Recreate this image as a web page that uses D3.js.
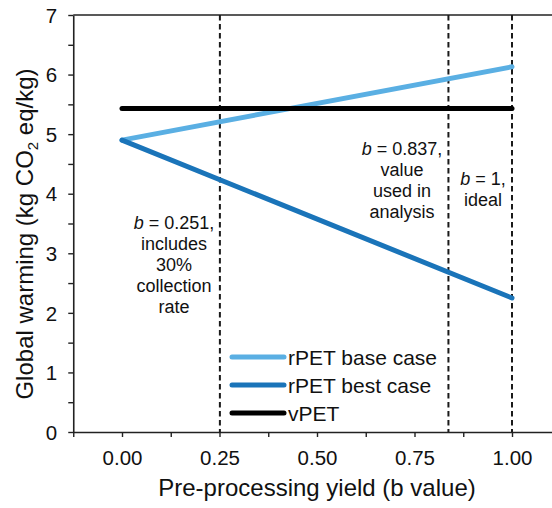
<!DOCTYPE html>
<html>
<head>
<meta charset="utf-8">
<script src="https://cdn.jsdelivr.net/npm/d3@7"></script>
<style>
  body { margin: 0; background: #fff; }
  svg { display: block; font-family: "Liberation Sans", Arial, sans-serif; }
</style>
</head>
<body>
<svg id="canvas" width="552" height="508"></svg>
<script>
// data
let bValues = [0, 1]
let baseCase = [4.9, 6.13]
let bestCase = [4.9, 2.25]
let vPET = [5.43, 5.43]
let markerB = [0.251, 0.837, 1]
let xTickLabels = [0, 0.25, 0.5, 0.75, 1]
let yTickLabels = [0, 1, 2, 3, 4, 5, 6, 7]

let seriesNames = ['rPET base case', 'rPET best case', 'vPET']
let seriesColors = ['#5aafe3', '#1a74b9', '#000000']

// notes next to the dashed lines
let notes = [
    { b: 0.251, cx: 174, y0: 229, lines: ['= 0.251,', 'includes', '30%', 'collection', 'rate'] },
    { b: 0.837, cx: 402, y0: 155, lines: ['= 0.837,', 'value', 'used in', 'analysis'] },
    { b: 1, cx: 483, y0: 185, lines: ['= 1,', 'ideal'] }
]

let canvas = d3.select('#canvas')

let xScale = d3.scaleLinear().domain([-0.125, 1.125]).range([73.25, 560.75])
let yScale = d3.scaleLinear().domain([0, 7]).range([432, 15])

// top border
canvas.append('line')
    .attr('x1', xScale(-0.125)).attr('x2', 552)
    .attr('y1', yScale(7)).attr('y2', yScale(7))
    .attr('stroke', '#222').attr('stroke-width', 1.6)

// dashed reference lines
canvas.selectAll('.marker')
    .data(markerB)
    .enter()
    .append('line')
    .attr('class', 'marker')
    .attr('x1', (d) => xScale(d)).attr('x2', (d) => xScale(d))
    .attr('y1', yScale(7)).attr('y2', yScale(0))
    .attr('stroke', '#1a1a1a')
    .attr('stroke-width', 2)
    .attr('stroke-dasharray', '5.5,3.5')

// x axis
let xAxis = d3.axisBottom(xScale)
    .tickValues(d3.range(-0.125, 1.126, 0.125))
    .tickSize(5)
    .tickSizeOuter(0)
    .tickFormat((d) => xTickLabels.some((v) => Math.abs(v - d) < 1e-6) ? d3.format('.2f')(d) : '')

let xg = canvas.append('g')
    .attr('transform', 'translate(0,' + yScale(0) + ')')
    .call(xAxis)
xg.select('.domain').attr('stroke', '#222').attr('stroke-width', 1.6)
xg.selectAll('.tick line').attr('stroke', '#222').attr('stroke-width', 1.4)
xg.selectAll('.tick text')
    .attr('font-size', 20.5)
    .attr('fill', '#111')
    .attr('font-family', '"Liberation Sans", Arial, sans-serif')
    .attr('dy', null)
    .attr('y', 33)

// y axis
let yAxis = d3.axisLeft(yScale)
    .tickValues(d3.range(0, 7.01, 0.5))
    .tickSize(5)
    .tickSizeOuter(0)
    .tickFormat((d) => yTickLabels.includes(d) ? d : '')

let yg = canvas.append('g')
    .attr('transform', 'translate(' + xScale(-0.125) + ',0)')
    .call(yAxis)
yg.select('.domain').attr('stroke', '#222').attr('stroke-width', 1.6)
yg.selectAll('.tick line').attr('stroke', '#222').attr('stroke-width', 1.4)
yg.selectAll('.tick text')
    .attr('font-size', 20.5)
    .attr('fill', '#111')
    .attr('font-family', '"Liberation Sans", Arial, sans-serif')
    .attr('x', -16)
    .attr('dy', '0.35em')

// series lines
let allSeries = [baseCase, bestCase, vPET]
let lineGen = d3.line()
    .x((d, i) => xScale(bValues[i]))
    .y((d) => yScale(d))

canvas.selectAll('.series')
    .data(allSeries)
    .enter()
    .append('path')
    .attr('class', 'series')
    .attr('d', (d) => lineGen(d))
    .attr('fill', 'none')
    .attr('stroke', (d, i) => seriesColors[i])
    .attr('stroke-width', 5)
    .attr('stroke-linecap', 'round')

// notes
notes.forEach((n) => {
    let t = canvas.append('text')
        .attr('text-anchor', 'middle')
        .attr('font-size', 18)
        .attr('fill', '#111')
    n.lines.forEach((line, i) => {
        let row = t.append('tspan')
            .attr('x', n.cx)
            .attr('y', n.y0 + i * 21)
        if (i === 0) {
            row.append('tspan').attr('font-style', 'italic').text('b')
            row.append('tspan').text(' ' + line)
        } else {
            row.text(line)
        }
    })
})

// legend
let legend = canvas.selectAll('.legend')
    .data(seriesNames)
    .enter()
    .append('g')
    .attr('class', 'legend')
    .attr('transform', (d, i) => 'translate(232,' + (357 + i * 28) + ')')

legend.append('line')
    .attr('x1', 0).attr('x2', 52)
    .attr('stroke', (d, i) => seriesColors[i])
    .attr('stroke-width', 5)
    .attr('stroke-linecap', 'round')

legend.append('text')
    .attr('x', 56)
    .attr('y', 7.5)
    .attr('font-size', 21)
    .attr('fill', '#111')
    .text((d) => d)

// axis titles
canvas.append('text')
    .attr('x', xScale(0.5))
    .attr('y', 496)
    .attr('text-anchor', 'middle')
    .attr('font-size', 24)
    .attr('fill', '#111')
    .text('Pre-processing yield (b value)')

let yTitle = canvas.append('text')
    .attr('transform', 'translate(33,' + 234 + ') rotate(-90)')
    .attr('text-anchor', 'middle')
    .attr('font-size', 24)
    .attr('fill', '#111')
yTitle.append('tspan').text('Global warming (kg CO')
yTitle.append('tspan').attr('font-size', 15).attr('dy', 5).text('2')
yTitle.append('tspan').attr('dy', -5).text(' eq/kg)')
</script>
</body>
</html>
